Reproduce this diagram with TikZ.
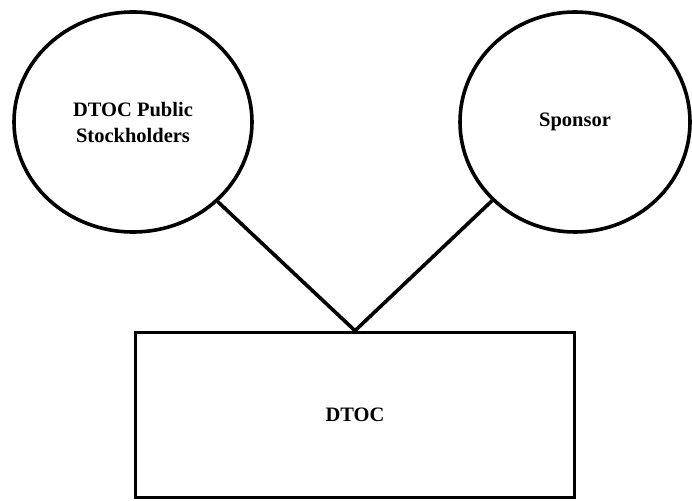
\documentclass[tikz,border=0pt]{standalone}
\usepackage{fontspec}
\setmainfont{Liberation Serif}
\usetikzlibrary{shapes.geometric, positioning}

\begin{document}
\begin{tikzpicture}[on grid,line width=3.6pt,
    owner/.style={draw, ellipse, inner sep=0pt, minimum height=220pt, align=center,
      font=\bfseries\fontsize{20.5}{26}\selectfont},
    entity/.style={draw, rectangle, inner sep=0pt, minimum width=439pt, minimum height=165pt,
      font=\bfseries\fontsize{20.5}{26}\selectfont}]
  \useasboundingbox (-355pt,-85pt) rectangle (337pt,415pt);

  % Define nodes
  \node[entity] (dtoc) {DTOC};  % the company at the bottom
  \node[owner, minimum width=238pt] (public) [above left=293pt and 222pt of dtoc] {DTOC Public\\Stockholders};
  \node[owner, minimum width=230pt] (sponsor) [above right=293pt and 220pt of dtoc] {Sponsor};

  % Define links
  \path
    (public)  edge (dtoc.north)
    (sponsor) edge (dtoc.north);

\end{tikzpicture}
\end{document}
